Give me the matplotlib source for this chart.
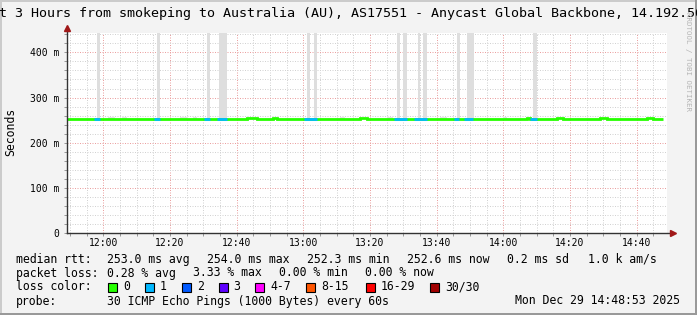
import matplotlib
matplotlib.use('Agg')
import matplotlib.pyplot as plt
from matplotlib.patches import Rectangle
from matplotlib.ticker import MultipleLocator, FixedLocator

W, H = 697, 315
MONO = 'DejaVu Sans Mono'
plt.rcParams['font.family'] = MONO

# ---- data (time in minutes since midnight, rtt in ms) ----
med_time = [709, 763, 766, 771, 772, 797, 799, 847, 848, 856, 858, 869, 871, 883, 885, 888]
med_value = [253, 255, 253, 255, 253, 255, 253, 255, 253, 255, 253, 255, 253, 255, 253]

loss_start = [717.3, 735.3, 750.3, 754.0, 780.3, 807.3, 813.2, 825.2, 828.3, 848.0]
loss_end = [719.0, 737.0, 752.0, 757.0, 784.0, 811.0, 817.0, 826.8, 831.0, 850.0]
loss_median = [253, 253, 253, 253, 253, 253, 253, 253, 253, 253]

spike_start = [718, 736, 751, 754.8, 781, 783.2, 808.2, 810, 814.3, 816, 826, 829.2, 849]
spike_end = [719, 737, 752, 757, 782, 784.2, 809, 811, 815, 817, 827, 831.2, 850]
spike_top = [600] * 13

smoke_start = [721.5, 725.5, 743, 747, 791, 805, 821, 840]
smoke_end = [723.5, 727, 745, 748, 792.5, 807, 823, 841]
smoke_top = [258, 257, 258, 257, 257, 258, 258, 257]

x_ticks = [720, 740, 760, 780, 800, 820, 840, 860, 880]
x_labels = ['12:00', '12:20', '12:40', '13:00', '13:20', '13:40', '14:00', '14:20', '14:40']
y_ticks = [0, 100, 200, 300, 400]
y_labels = ['0', '100 m', '200 m', '300 m', '400 m']

loss_names = ['0', '1', '2', '3', '4-7', '8-15', '16-29', '30/30']
loss_colors = ['#26ff00', '#00b8ff', '#0059ff', '#5e00ff', '#ff00ff', '#ff5500', '#ff0000', '#a10000']

title = 'Last 3 Hours from smokeping to Australia (AU), AS17551 - Anycast Global Backbone, 14.192.56'
rtt_items = ['253.0 ms avg', '254.0 ms max', '252.3 ms min', '252.6 ms now', '0.2 ms sd', '1.0 k am/s']
loss_items = ['0.28 % avg', '3.33 % max', '0.00 % min', '0.00 % now']
probe_text = '30 ICMP Echo Pings (1000 Bytes) every 60s'
stamp = 'Mon Dec 29 14:48:53 2025'

x_min, x_max = 709.1, 889.1
y_max = 442

# ---- figure ----
fig = plt.figure(figsize=(W / 100, H / 100), dpi=100, facecolor='#f3f3f3')


def fx(px):
    return px / W


def fy(py):
    return 1 - py / H


# frame shading
fig.add_artist(Rectangle((0, fy(2)), 1, 2 / H, transform=fig.transFigure, color='#cbcbcb', lw=0))
fig.add_artist(Rectangle((0, 0), 2 / W, 1, transform=fig.transFigure, color='#cbcbcb', lw=0))
fig.add_artist(Rectangle((0, 0), 1, 2 / H, transform=fig.transFigure, color='#999999', lw=0))
fig.add_artist(Rectangle((fx(W - 2), 0), 2 / W, 1, transform=fig.transFigure, color='#999999', lw=0))

ax = fig.add_axes([fx(67), fy(233.3), fx(600), 200 / H])
ax.set_facecolor('white')
ax.set_xlim(x_min, x_max)
ax.set_ylim(0, y_max)

# grid
ax.xaxis.set_minor_locator(MultipleLocator(5))
ax.yaxis.set_minor_locator(MultipleLocator(20))
ax.xaxis.set_major_locator(FixedLocator(x_ticks))
ax.yaxis.set_major_locator(FixedLocator(y_ticks))
ax.set_xticklabels(x_labels)
ax.set_yticklabels(y_labels)
ax.grid(True, which='minor', color='#d2d2d2', lw=0.72, ls=(0, (1, 1.5)))
ax.grid(True, which='major', color='#eba0a0', lw=0.72, ls=(0, (1, 1.5)))
ax.set_axisbelow(True)
ax.tick_params(which='both', length=2.2, width=0.6, color='#888888', direction='out')
ax.tick_params(axis='x', which='major', labelsize=7, pad=1.5)
ax.tick_params(axis='y', which='major', labelsize=7, pad=3.5)
for s in ax.spines.values():
    s.set_visible(False)

# smoke
ax.bar(spike_start, [t - 253 for t in spike_top],
       width=[e - s for s, e in zip(spike_start, spike_end)], bottom=253,
       align='edge', color='#dedede', lw=0, zorder=2)
ax.bar(smoke_start, [t - 253 for t in smoke_top],
       width=[e - s for s, e in zip(smoke_start, smoke_end)], bottom=253,
       align='edge', color='#e4e4e4', lw=0, zorder=2)

# median line coloured by loss
ax.stairs(med_value, med_time, color=loss_colors[0], lw=2.0, zorder=3, baseline=None)
ax.hlines(loss_median, loss_start, loss_end, color=loss_colors[1], lw=2.0, zorder=4,
          capstyle='butt')

# axes with arrows
ax.plot([0, 1.01], [0, 0], transform=ax.transAxes, color='#333333', lw=1.0,
        clip_on=False, zorder=5)
ax.plot([0, 0], [0, 1.02], transform=ax.transAxes, color='#333333', lw=1.0,
        clip_on=False, zorder=5)
ax.plot([1.01], [0], transform=ax.transAxes, marker='>', ms=4, color='#a01818',
        clip_on=False, zorder=6)
ax.plot([0], [1.025], transform=ax.transAxes, marker='^', ms=4, color='#a01818',
        clip_on=False, zorder=6)

# title, y label, watermark
fig.text(fx(-25), fy(13.5), title, fontsize=9.65, ha='left', va='center', color='black')
fig.text(fx(11), fy(132), 'Seconds', rotation=90, fontsize=8.3, ha='center', va='center')
fig.text(fx(688), fy(62), 'RRDTOOL / TOBI OETIKER', rotation=270, fontsize=5.4,
         ha='center', va='center', color='#b5b5b5')

# legend
fs = 8.3
fig.text(fx(16), fy(259.5), 'median rtt:', fontsize=fs, va='center')
for i, item in enumerate(rtt_items):
    fig.text(fx(107 + 100.1 * i - (20 if i == 5 else 0)), fy(259.5), item, fontsize=fs, va='center')

fig.text(fx(16), fy(273), 'packet loss:', fontsize=fs, va='center')
for i, item in enumerate(loss_items):
    fig.text(fx(107 + 86.1 * i), fy(273), item, fontsize=fs, va='center')

fig.text(fx(16), fy(287), 'loss color:', fontsize=fs, va='center')
box_left = [108, 145, 182, 218.5, 255, 306, 365.5, 430]
for bx, name, c in zip(box_left, loss_names, loss_colors):
    fig.add_artist(Rectangle((fx(bx), fy(291.5)), 9 / W, 9 / H, transform=fig.transFigure,
                             facecolor=c, edgecolor='black', lw=0.8))
    fig.text(fx(bx + 15), fy(287), name, fontsize=fs, va='center')

fig.text(fx(16), fy(301), 'probe:', fontsize=fs, va='center')
fig.text(fx(107), fy(301), probe_text, fontsize=fs, va='center')
fig.text(fx(680), fy(301), stamp, fontsize=fs, va='center', ha='right')

fig.savefig('out.png', dpi=100, facecolor=fig.get_facecolor())
